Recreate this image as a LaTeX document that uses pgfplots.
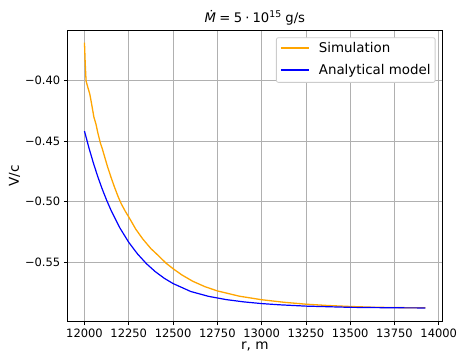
\documentclass[border=0pt]{standalone}
\usepackage{fontspec}
\setmainfont{DejaVu Sans}
\usepackage{pgfplots}
\pgfplotsset{compat=1.18}
\definecolor{mplorange}{RGB}{255,165,0}
\definecolor{mplblue}{RGB}{0,0,255}
\begin{document}
\begin{tikzpicture}[x=1pt,y=1pt]
\useasboundingbox (-67.3,-38.3) rectangle (391.7,321.7);
\begin{axis}[
  at={(0,0)}, anchor=south west, scale only axis,
  width=375pt, height=291.7pt,
  xmin=11903, xmax=14020, ymin=-0.5995, ymax=-0.358,
  scaled x ticks=false, scaled y ticks=false,
  xtick={12000,12250,12500,12750,13000,13250,13500,13750,14000},
  xticklabels={12000,12250,12500,12750,13000,13250,13500,13750,14000},
  ytick={-0.55,-0.50,-0.45,-0.40},
  yticklabels={−0.55,−0.50,−0.45,−0.40},
  tick label style={font=\fontsize{11.5}{13}\selectfont},
  grid=major, grid style={color=black!31, line width=0.8pt},
  axis line style={line width=0.8pt},
  tick style={black, line width=0.8pt}, tick align=outside, major tick length=3.5pt,
  xtick pos=left, ytick pos=left,
  xlabel={r, m}, ylabel={V/c},
  label style={font=\fontsize{13.6}{16}\selectfont},
  xlabel style={yshift=2pt},
  ylabel style={yshift=-2pt},
  title={\fontsize{13.2}{15}\selectfont\textit{\.M}\hspace{3.5pt}=\hspace{3.5pt}5\hspace{3pt}·\hspace{3pt}10\raisebox{0.42em}{\fontsize{9.3}{10}\selectfont 15} g/s},
  title style={yshift=-5pt},
]
\addplot[draw=mplorange, line width=1.3pt] coordinates {
(12000,-0.3685) (12004,-0.385) (12009,-0.4002) (12020,-0.406) (12030,-0.411) (12040,-0.419)
(12053,-0.430) (12065,-0.436) (12075,-0.4429) (12090,-0.4517) (12100,-0.4560)
(12113,-0.4626) (12131,-0.4716) (12150,-0.480) (12169,-0.4879) (12190,-0.496)
(12207,-0.5017) (12230,-0.508) (12250,-0.5128) (12290,-0.523) (12329,-0.531)
(12375,-0.539) (12423,-0.5456) (12460,-0.551) (12500,-0.5556) (12550,-0.5608)
(12611,-0.5660) (12680,-0.5705) (12750,-0.5740) (12875,-0.5784) (13000,-0.5813)
(13125,-0.5834) (13250,-0.5850) (13375,-0.5861) (13500,-0.5869) (13625,-0.5875)
(13750,-0.5878) (13925,-0.5880)
};
\addplot[draw=mplblue, line width=1.2pt] coordinates {
(12000,-0.4417) (12025,-0.4555) (12050,-0.468) (12075,-0.4794) (12100,-0.4896)
(12125,-0.4989) (12150,-0.5073) (12200,-0.5219) (12250,-0.5338) (12300,-0.5435)
(12350,-0.5515) (12400,-0.5581) (12450,-0.5635) (12500,-0.5679) (12600,-0.5745)
(12700,-0.5785) (12800,-0.5812) (12900,-0.5831) (13000,-0.5845) (13100,-0.5855)
(13250,-0.5866) (13500,-0.5876) (13750,-0.5880) (13925,-0.5881)
};
\node[anchor=north east, draw=black!20, line width=0.8pt, rounded corners=2pt,
  fill=white, inner xsep=4.5pt, inner ysep=5pt,
  align=left, font=\fontsize{13.4}{21.7}\selectfont]
  at (rel axis cs:0.982,0.975)
  {\textcolor{mplorange}{\rule[0.3em]{28pt}{1.5pt}}\hspace{10pt}Simulation\\
   \textcolor{mplblue}{\rule[0.3em]{28pt}{1.5pt}}\hspace{10pt}Analytical model};
\end{axis}
\end{tikzpicture}
\end{document}
